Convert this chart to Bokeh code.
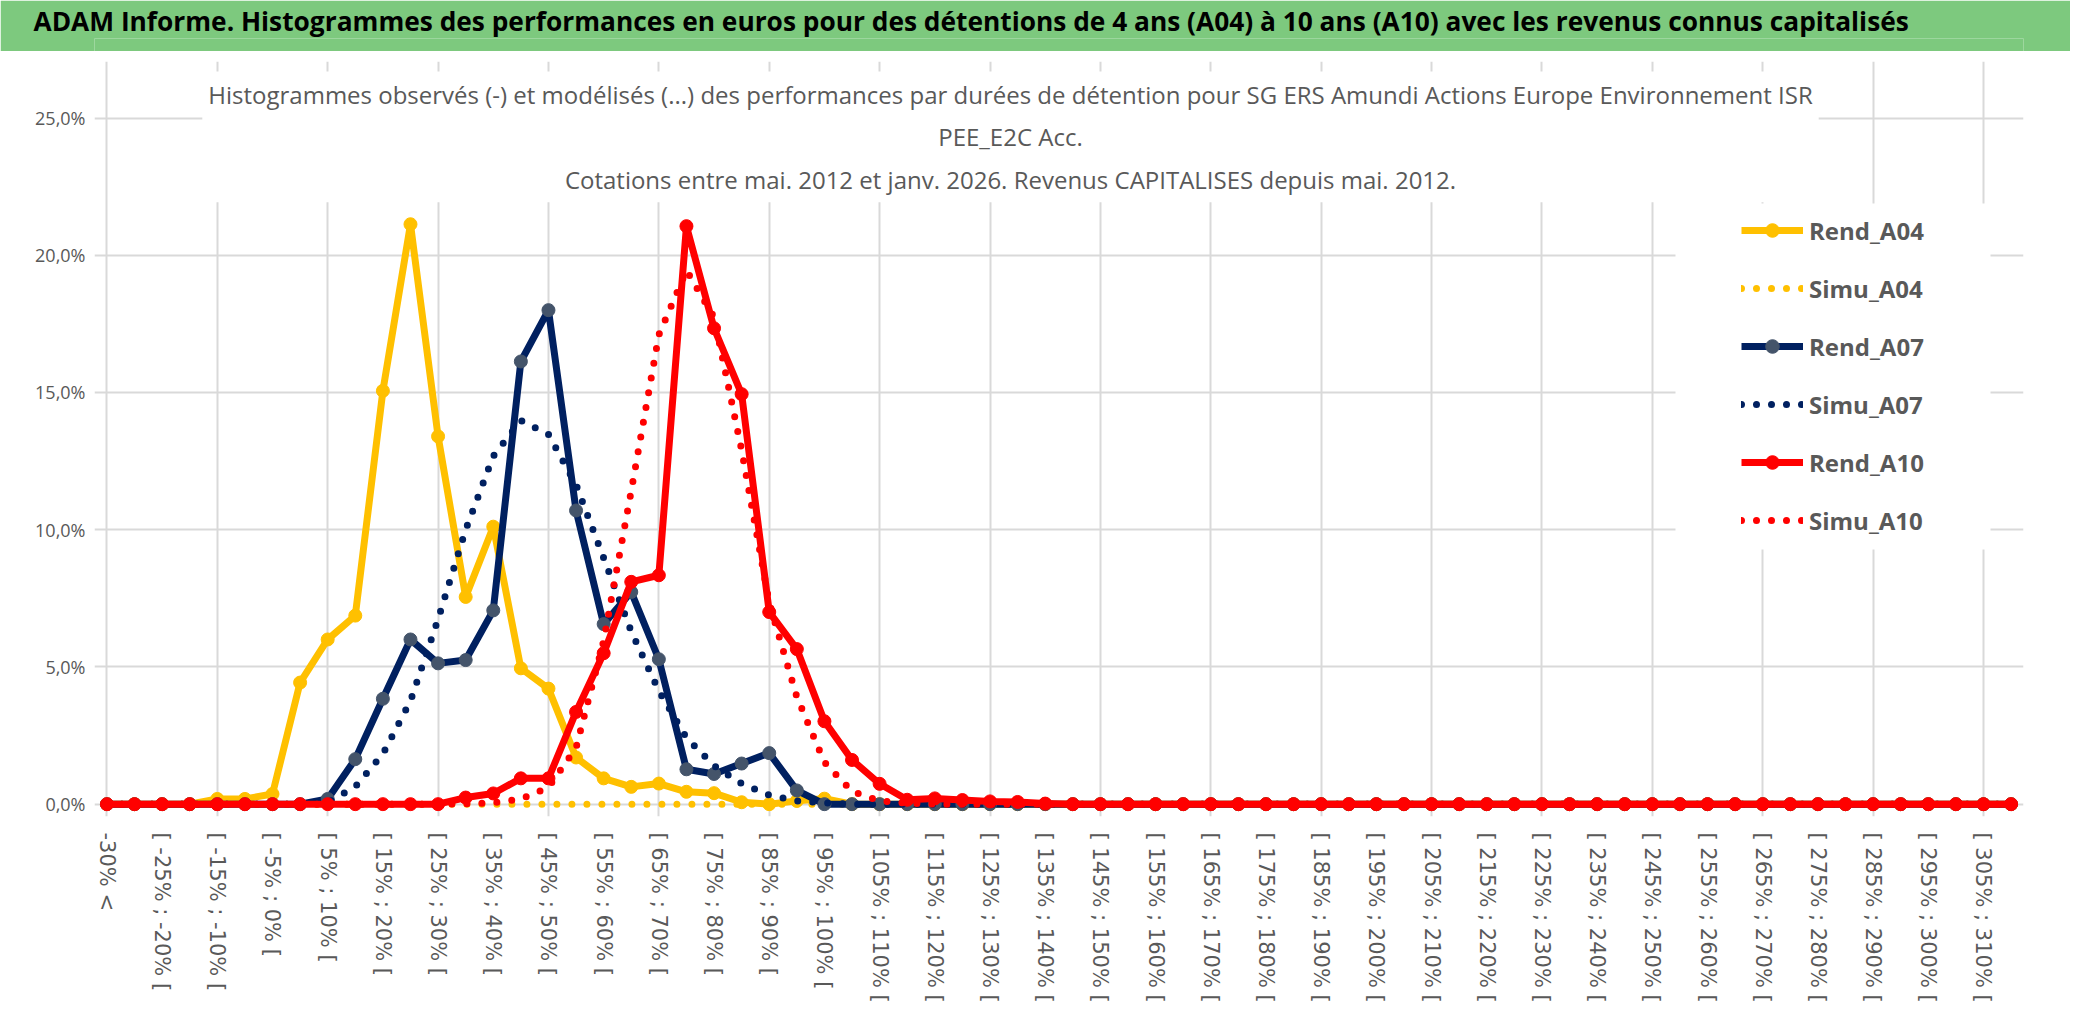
from bokeh.plotting import figure
from bokeh.models import Range1d, FixedTicker, Label, Legend, LegendItem, BoxAnnotation
from bokeh.layouts import column
from bokeh.embed import file_html
from bokeh.resources import INLINE

# categories: "-30% <" then 5% bins up to [ 310% ; 315% [
categories = ["-30% <"] + ["[ %d%% ; %d%% [" % (a, a + 5) for a in range(-30, 315, 5)]
label_every = 2
y_ticks = [0, 5, 10, 15, 20, 25]
y_tick_labels = ["0,0%", "5,0%", "10,0%", "15,0%", "20,0%", "25,0%"]

# frequencies in %
rend_a04 = [0, 0, 0, 0, 0.19, 0.19, 0.37, 4.43, 6.00, 6.87,
            15.06, 21.13, 13.40, 7.55, 10.11, 4.95, 4.21, 1.70, 0.94, 0.63,
            0.75, 0.45, 0.40, 0.07, 0.00, 0.12, 0.20, 0, 0, 0,
            0, 0, 0, 0, 0, 0, 0, 0, 0, 0,
            0, 0, 0, 0, 0, 0, 0, 0, 0, 0,
            0, 0, 0, 0, 0, 0, 0, 0, 0, 0,
            0, 0, 0, 0, 0, 0, 0, 0, 0, 0]
simu_a04 = [0, 0, 0, 0, 0, 0, 0, 0, 0, 0,
            0, 0, 0, 0, 0, 0, 0, 0, 0, 0,
            0, 0, 0, 0, 0, 0, 0, 0, 0, 0,
            0, 0, 0, 0, 0, 0, 0, 0, 0, 0,
            0, 0, 0, 0, 0, 0, 0, 0, 0, 0,
            0, 0, 0, 0, 0, 0, 0, 0, 0, 0,
            0, 0, 0, 0, 0, 0, 0, 0, 0, 0]
rend_a07 = [0, 0, 0, 0, 0, 0, 0, 0, 0.19, 1.64,
            3.84, 6.00, 5.13, 5.25, 7.06, 16.13, 18.00, 10.70, 6.56, 7.73,
            5.28, 1.27, 1.10, 1.48, 1.86, 0.50, 0, 0, 0, 0,
            0, 0, 0, 0, 0, 0, 0, 0, 0, 0,
            0, 0, 0, 0, 0, 0, 0, 0, 0, 0,
            0, 0, 0, 0, 0, 0, 0, 0, 0, 0,
            0, 0, 0, 0, 0, 0, 0, 0, 0, 0]
simu_a07 = [0, 0, 0, 0, 0, 0, 0, 0, 0.05, 0.64,
            1.83, 3.76, 6.74, 10.00, 12.68, 13.98, 13.47, 11.64, 8.97, 6.29,
            4.13, 2.42, 1.40, 0.75, 0.33, 0.12, 0.05, 0, 0, 0,
            0, 0, 0, 0, 0, 0, 0, 0, 0, 0,
            0, 0, 0, 0, 0, 0, 0, 0, 0, 0,
            0, 0, 0, 0, 0, 0, 0, 0, 0, 0,
            0, 0, 0, 0, 0, 0, 0, 0, 0, 0]
rend_a10 = [0, 0, 0, 0, 0, 0, 0, 0, 0, 0,
            0, 0, 0, 0.24, 0.39, 0.94, 0.94, 3.36, 5.50, 8.10,
            8.34, 21.06, 17.34, 14.94, 7.00, 5.65, 3.02, 1.61, 0.74, 0.16,
            0.21, 0.15, 0.10, 0.08, 0.02, 0, 0, 0, 0, 0,
            0, 0, 0, 0, 0, 0, 0, 0, 0, 0,
            0, 0, 0, 0, 0, 0, 0, 0, 0, 0,
            0, 0, 0, 0, 0, 0, 0, 0, 0, 0]
simu_a10 = [0, 0, 0, 0, 0, 0, 0, 0, 0, 0,
            0, 0, 0, 0.01, 0.05, 0.19, 0.61, 2.05, 5.95, 11.42,
            17.10, 19.45, 17.74, 12.90, 7.33, 3.91, 1.53, 0.46, 0.12, 0.03,
            0, 0, 0, 0, 0, 0, 0, 0, 0, 0,
            0, 0, 0, 0, 0, 0, 0, 0, 0, 0,
            0, 0, 0, 0, 0, 0, 0, 0, 0, 0,
            0, 0, 0, 0, 0, 0, 0, 0, 0, 0]

header_text = ("ADAM Informe. Histogrammes des performances en euros pour des détentions "
               "de 4 ans (A04) à 10 ans (A10) avec les revenus connus capitalisés")
chart_title = ("Histogrammes observés (-) et modélisés (...) des performances par durées de "
               "détention pour SG ERS Amundi Actions Europe Environnement ISR\n"
               "PEE_E2C Acc.\n"
               "Cotations entre mai. 2012 et janv. 2026. Revenus CAPITALISES depuis mai. 2012.")

SANS = "Open Sans"
GREY = "#595959"
GREEN = "#7dc97e"
YELLOW = "#ffc000"
NAVY = "#002060"
RED = "#ff0000"

W = 2070
HEAD_H = 51
MAIN_H = 964
LEFT, RIGHT, TOP, BOTTOM = 94, 47, 10, 199
PAD_X, PAD_Y = 0.45, 0.45
Y_MAX = 27.06

# ---- green header band (its frame lines up with the chart frame in the column)
head = figure(width=W, height=HEAD_H, title=header_text,
              x_range=Range1d(0, 1), y_range=Range1d(0, 1),
              toolbar_location=None, output_backend="svg",
              min_border_left=LEFT, min_border_right=RIGHT, min_border_top=11, min_border_bottom=0,
              x_axis_location=None, y_axis_location=None,
              background_fill_color=GREEN, border_fill_color=GREEN, outline_line_color=None)
head.grid.visible = False
head.title.align = "left"
head.title.offset = 33 - LEFT
head.title.standoff = 0
head.title.text_font = SANS
head.title.text_font_style = "bold"
head.title.text_font_size = "26.3px"
head.title.text_color = "black"

# ---- main chart
n = len(categories)
xs = list(range(n))
p = figure(width=W, height=MAIN_H,
           x_range=Range1d(-PAD_X, n - 1 + PAD_X), y_range=Range1d(-PAD_Y, Y_MAX),
           toolbar_location=None, output_backend="svg",
           min_border_left=LEFT, min_border_right=RIGHT, min_border_top=TOP, min_border_bottom=BOTTOM,
           outline_line_color=None, background_fill_color="white", border_fill_color="white")

frame_w = W - LEFT - RIGHT
frame_h = MAIN_H - TOP - BOTTOM
dx = frame_w / (n - 1 + 2 * PAD_X)
dy = frame_h / (Y_MAX + PAD_Y)


def px_x(px):
    # page pixel -> data x
    return (px - LEFT) / dx - PAD_X


def px_y(py):
    # page pixel -> data y (main figure starts below the header)
    return Y_MAX - (py - HEAD_H - TOP) / dy


p.xgrid.ticker = FixedTicker(ticks=list(range(0, n, 4)))
p.ygrid.ticker = FixedTicker(ticks=y_ticks)
p.grid.grid_line_color = "#d9d9d9"
p.grid.grid_line_width = 2
p.xgrid.bounds = (0, y_ticks[-1])
p.ygrid.bounds = (0, n - 1)

p.xaxis.ticker = FixedTicker(ticks=list(range(0, n, label_every)))
p.xaxis.major_label_overrides = {i: categories[i] for i in range(0, n, label_every)}
p.xaxis.major_label_orientation = "vertical"
p.xaxis.major_label_text_font = "DejaVu Sans"
p.xaxis.major_label_text_font_size = "21px"
p.xaxis.major_label_standoff = 16

p.yaxis.ticker = FixedTicker(ticks=y_ticks)
p.yaxis.major_label_overrides = dict(zip(y_ticks, y_tick_labels))
p.yaxis.major_label_text_font = SANS
p.yaxis.major_label_text_font_size = "18px"
p.yaxis.major_label_standoff = 9

p.axis.major_label_text_color = GREY
p.axis.axis_line_color = None
p.axis.major_tick_line_color = None
p.axis.minor_tick_line_color = None
p.axis.major_tick_out = 0
p.axis.major_tick_in = 0

# white area behind the legend, hiding the gridlines like the chart's legend box
p.add_layout(BoxAnnotation(left=px_x(1675), right=px_x(1990), top=px_y(203), bottom=px_y(549),
                           fill_color="white", fill_alpha=1.0, line_color=None, level="underlay"))

series = [
    ("Rend_A04", rend_a04, YELLOW, YELLOW, False),
    ("Simu_A04", simu_a04, YELLOW, None, True),
    ("Rend_A07", rend_a07, NAVY, "#44546a", False),
    ("Simu_A07", simu_a07, NAVY, None, True),
    ("Rend_A10", rend_a10, RED, RED, False),
    ("Simu_A10", simu_a10, RED, None, True),
]
items = []
for name, vals, color, mcolor, dotted in series:
    if dotted:
        r = p.line(xs, vals, line_color=color, line_width=7, line_dash="0 15", line_cap="round")
        items.append(LegendItem(label=name, renderers=[r]))
    else:
        r = p.line(xs, vals, line_color=color, line_width=7, line_join="round")
        m = p.scatter(xs, vals, marker="circle", size=13, fill_color=mcolor, line_color=mcolor)
        items.append(LegendItem(label=name, renderers=[r, m]))

legend = Legend(items=items, location=(1647, 279), orientation="vertical",
                glyph_width=62, glyph_height=34, label_height=34, spacing=24,
                padding=13, margin=0, label_standoff=6,
                label_text_font=SANS, label_text_font_style="bold",
                label_text_font_size="24px", label_text_color=GREY,
                border_line_color=None, background_fill_color="white", background_fill_alpha=1.0)
p.add_layout(legend)

p.add_layout(Label(x=px_x(1010), y=px_y(71), text=chart_title, text_align="center",
                   text_baseline="top", text_font=SANS, text_font_size="24px",
                   text_color=GREY, text_line_height=1.3,
                   background_fill_color="white", padding=6))

layout = column(head, p, spacing=0)
open("out.html", "w").write(file_html(layout, INLINE))
